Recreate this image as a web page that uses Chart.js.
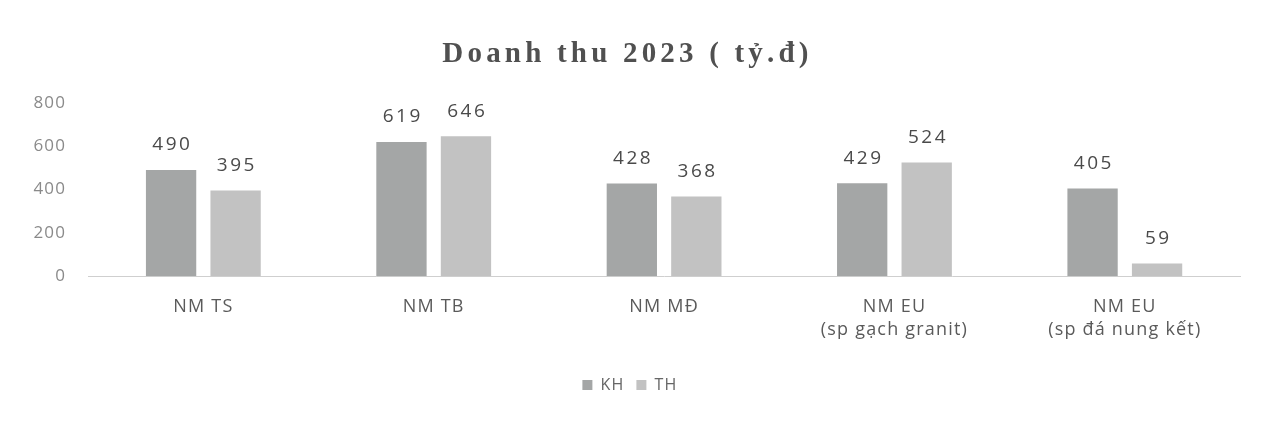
<!DOCTYPE html>
<html><head><meta charset="utf-8">
<script src="https://cdn.jsdelivr.net/npm/chart.js@4/dist/chart.umd.min.js"></script>
<style>html,body{margin:0;padding:0;background:#fff;}#wrap{width:1262px;height:421px;}</style>
</head><body><div id="wrap"><canvas id="c" width="1262" height="421"></canvas></div>
<script>
const categories = [["NM TS"],["NM TB"],["NM MĐ"],["NM EU","(sp gạch granit)"],["NM EU","(sp đá nung kết)"]];
const khValues = [490, 619, 428, 429, 405];
const thValues = [395, 646, 368, 524, 59];
const yTicks = [0, 200, 400, 600, 800];

const spacing = {
  id: 'spacing',
  beforeDraw(chart) { chart.ctx.letterSpacing = '1.2px'; }
};

const valueLabels = {
  id: 'valueLabels',
  afterDatasetsDraw(chart) {
    const ctx = chart.ctx;
    ctx.save();
    ctx.letterSpacing = '2.5px';
    ctx.font = '19px "Open Sans", sans-serif';
    ctx.fillStyle = '#4a4a4a';
    ctx.textAlign = 'center';
    ctx.textBaseline = 'middle';
    chart.data.datasets.forEach((ds, i) => {
      chart.getDatasetMeta(i).data.forEach((bar, j) => {
        ctx.fillText(String(ds.data[j]), bar.x + 1.25, bar.y - 25);
      });
    });
    ctx.restore();
  }
};

const chart = new Chart(document.getElementById('c'), {
  type: 'bar',
  data: {
    labels: categories,
    datasets: [
      { label: 'KH', data: khValues, backgroundColor: '#a4a6a6', categoryPercentage: 0.56, barPercentage: 0.78 },
      { label: 'TH', data: thValues, backgroundColor: '#c2c2c2', categoryPercentage: 0.56, barPercentage: 0.78 }
    ]
  },
  options: {
    responsive: false,
    animation: false,
    layout: { padding: { left: 15, right: 22, top: 0, bottom: 18 } },
    plugins: {
      title: { display: true, text: 'Doanh thu 2023 ( tỷ.đ)', color: '#505050', font: { family: '"Liberation Serif", serif', size: 29, weight: 'bold' }, padding: { top: 37, bottom: 31 } },
      legend: { position: 'bottom', labels: { color: '#666', font: { family: '"Open Sans", sans-serif', size: 16 }, boxWidth: 10, boxHeight: 10, padding: 12 } },
      tooltip: { enabled: false }
    },
    scales: {
      x: {
        grid: { display: false, drawTicks: false },
        border: { display: true, color: '#cfcfcf', dash: [2, 2] },
        ticks: { color: '#5a5a5a', font: { family: '"Open Sans", sans-serif', size: 18, lineHeight: 1.3 }, padding: 19, maxRotation: 0 },
        afterFit(axis) { axis.height += 4; }
      },
      y: {
        min: 0, max: 800,
        afterBuildTicks(axis) { axis.ticks = yTicks.map(v => ({ value: v })); },
        grid: { display: false, drawTicks: false },
        border: { display: false },
        ticks: { color: '#8a8a8a', font: { family: '"Open Sans", sans-serif', size: 17 }, padding: 22 }
      }
    }
  },
  plugins: [spacing, valueLabels]
});

const tb = chart.titleBlock;
const origDraw = tb.draw.bind(tb);
tb.draw = function () {
  const prev = chart.ctx.letterSpacing;
  chart.ctx.letterSpacing = '4.2px';
  origDraw();
  chart.ctx.letterSpacing = prev;
};
chart.draw();
</script></body></html>
